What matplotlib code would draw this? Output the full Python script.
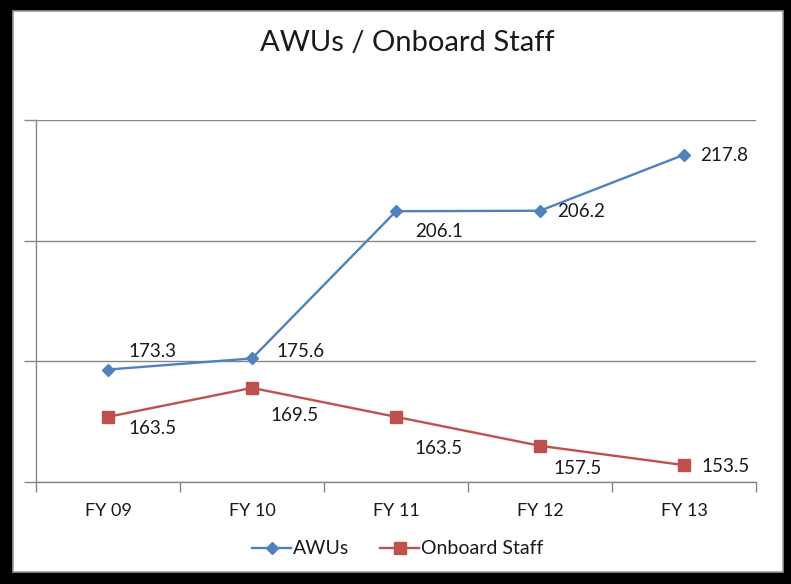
import matplotlib
matplotlib.use('Agg')
import matplotlib.pyplot as plt
from matplotlib.patches import Rectangle

years = ['FY 09', 'FY 10', 'FY 11', 'FY 12', 'FY 13']
awus = [173.3, 175.6, 206.1, 206.2, 217.8]
staff = [163.5, 169.5, 163.5, 157.5, 153.5]

# label offsets in pixels (dx, dy) from each point
awus_offsets = [(20, 18), (24, 7), (19, -20), (17, -1), (16, -1)]
staff_offsets = [(20, -12), (18, -28), (18, -32), (13, -23), (17, -1)]

blue = '#4F81BD'
red = '#C0504D'
grid_c = '#868686'
txt_c = '#1a1a1a'

plt.rcParams['font.family'] = ['Lato', 'DejaVu Sans']

fig = plt.figure(figsize=(7.91, 5.84), dpi=100, facecolor='black')
# white chart panel inside black frame
fig.patches.append(Rectangle((13 / 791, 1 - 572 / 584), 770 / 791, 561 / 584,
                             transform=fig.transFigure, facecolor='white',
                             edgecolor='#9a9a9a', linewidth=1.2, zorder=-5))

ax = fig.add_axes([36 / 791, 1 - 482 / 584, 720 / 791, 362 / 584])
ax.set_facecolor('none')

x = list(range(len(years)))
ax.plot(x, awus, color=blue, lw=1.7, marker='D', markersize=6.5, label='AWUs', zorder=3)
ax.plot(x, staff, color=red, lw=1.7, marker='s', markersize=8, label='Onboard Staff', zorder=3)

for xi, v, off in zip(x, awus, awus_offsets):
    ax.annotate(f'{v:.1f}', (xi, v), xytext=off, textcoords='offset pixels',
                ha='left', va='center', fontsize=13.5, color=txt_c)
for xi, v, off in zip(x, staff, staff_offsets):
    ax.annotate(f'{v:.1f}', (xi, v), xytext=off, textcoords='offset pixels',
                ha='left', va='center', fontsize=13.5, color=txt_c)

ax.set_xlim(-0.5, len(years) - 0.5)
ax.set_ylim(150, 225)
ax.set_yticks([150, 175, 200, 225])
ax.set_yticklabels([])
ax.yaxis.grid(True, color=grid_c, lw=1)
ax.set_axisbelow(True)

ax.set_xticks(x)
ax.set_xticklabels(years, fontsize=13, color=txt_c)
ax.set_xticks([i - 0.5 for i in range(len(years) + 1)], minor=True)
ax.tick_params(axis='x', which='major', length=0, pad=15)
ax.tick_params(axis='x', which='minor', length=7, color=grid_c, width=1)
ax.tick_params(axis='y', which='major', length=9, color=grid_c, width=1)

for s in ['top', 'right']:
    ax.spines[s].set_visible(False)
for s in ['left', 'bottom']:
    ax.spines[s].set_color(grid_c)
    ax.spines[s].set_linewidth(1)

fig.text(407 / 791, 1 - 43 / 584, 'AWUs / Onboard Staff', ha='center', va='center',
         fontsize=21, color=txt_c)

fig.legend(loc='center', bbox_to_anchor=(398 / 791, 1 - 549 / 584), ncol=2,
           frameon=False, fontsize=14, handlelength=2.0, handletextpad=0.1,
           columnspacing=1.6, labelcolor=txt_c)

fig.savefig('out.png', dpi=100, facecolor=fig.get_facecolor())
